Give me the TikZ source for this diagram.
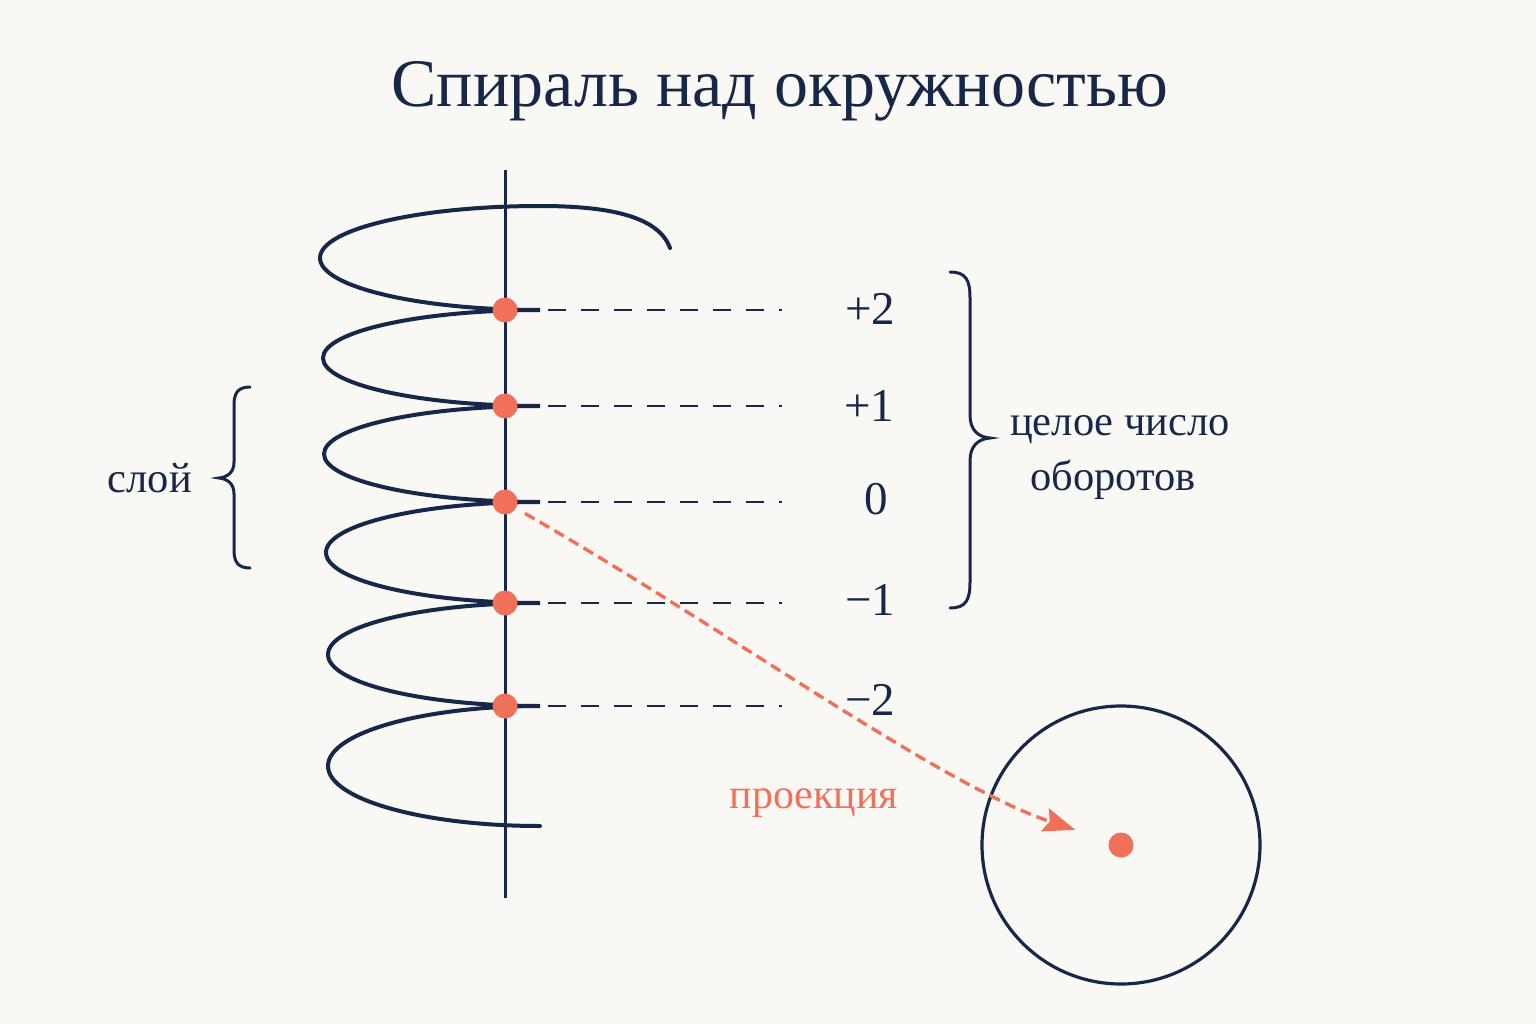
\documentclass[tikz,border=0pt]{standalone}
\usepackage{fontspec}
\setmainfont{Liberation Serif}
\usetikzlibrary{arrows.meta}
\definecolor{navy}{HTML}{16284A}
\definecolor{coral}{HTML}{F0705A}
\definecolor{bg}{HTML}{FAF8F4}
\begin{document}
\begin{tikzpicture}[x=1pt,y=-1pt,
  spiral/.style={draw=navy,line width=4pt,line cap=round},
  axisline/.style={draw=navy,line width=3pt},
  guide/.style={draw=navy,line width=2.3pt,dash pattern=on 18pt off 15pt},
  dotnode/.style={circle,fill=coral,inner sep=0pt,minimum size=25pt},
  lbl/.style={text=navy,font=\fontsize{47}{54}\selectfont,inner sep=0pt},
  txt/.style={text=navy,font=\fontsize{42.5}{50}\selectfont,inner sep=0pt},
  bracestyle/.style={draw=navy,line width=3pt,line cap=round},
  proj/.style={draw=coral,line width=3.4pt,dash pattern=on 11pt off 6pt,-{Stealth[length=32pt,width=24pt,inset=5pt]}}]
\fill[bg] (0,0) rectangle (1536,1024);
\useasboundingbox (0,0) rectangle (1536,1024);

% title
\node[text=navy,font=\fontsize{68}{80}\selectfont,inner sep=0pt] (title) at (780,91) {Спираль над окружностью};

% axis
\coordinate (axtop) at (505,170);
\coordinate (axbot) at (505,898);
\draw[axisline] (axtop) -- (axbot);

% spiral
\draw[spiral] (670,248) .. controls (658,215) and (605,206) .. (540,206)
  arc[start angle=270,end angle=90,x radius=220,y radius=52]
  arc[start angle=270,end angle=90,x radius=217,y radius=48]
  arc[start angle=270,end angle=90,x radius=216,y radius=48]
  arc[start angle=270,end angle=90,x radius=214,y radius=50.5]
  arc[start angle=270,end angle=90,x radius=212,y radius=51.5]
  arc[start angle=270,end angle=90,x radius=212,y radius=60];

% dots
\node[dotnode] (p2) at (505,310) {};
\node[dotnode] (p1) at (505,406) {};
\node[dotnode] (p0) at (505,502) {};
\node[dotnode] (m1) at (505,603) {};
\node[dotnode] (m2) at (505,706) {};

% dashed guides
\foreach \n/\y in {p2/310,p1/406,p0/502,m1/603,m2/706}{
  \coordinate (g\n) at (782,\y);
  \draw[guide] ([xshift=43pt]\n.center) -- (g\n);
}

% labels
\node[lbl] (l2) at (870,309) {+2};
\node[lbl] (l1) at (869,406) {+1};
\node[lbl] (l0) at (876,499) {0};
\node[lbl] (lm1) at (870,600) {−1};
\node[lbl] (lm2) at (870,700) {−2};

% right brace
\draw[bracestyle] (950,272) .. controls (966,272) and (970,280) .. (970,298) -- (970,415)
  .. controls (970,430) and (978,437) .. (990,438)
  .. controls (978,439) and (970,446) .. (970,461) -- (970,582)
  .. controls (970,600) and (966,608) .. (950,608);
\node[txt,anchor=west] (turns1) at (1010,430) {целое число};
\node[txt,anchor=west] (turns2) at (1030,480) {оборотов};

% left brace
\draw[bracestyle] (250,387) .. controls (238,387) and (234,393) .. (234,405) -- (234,462)
  .. controls (234,472) and (228,477) .. (219,478)
  .. controls (228,479) and (234,484) .. (234,494) -- (234,550)
  .. controls (234,562) and (238,568) .. (250,568);
\node[txt,anchor=east] (layer) at (192,478) {слой};

% circle
\node[circle,draw=navy,line width=3.2pt,minimum size=278pt,inner sep=0pt] (circ) at (1121,845) {};
\node[dotnode,minimum size=25pt] (cdot) at (1121,845) {};

% projection arrow
\draw[proj,shorten <=23pt,shorten >=48pt] (p0.center) .. controls (720,625) and (940,785) .. (cdot.center);
\node[text=coral,font=\fontsize{42}{48}\selectfont,inner sep=0pt] (projlbl) at (814,803) {проекция};
\end{tikzpicture}
\end{document}
